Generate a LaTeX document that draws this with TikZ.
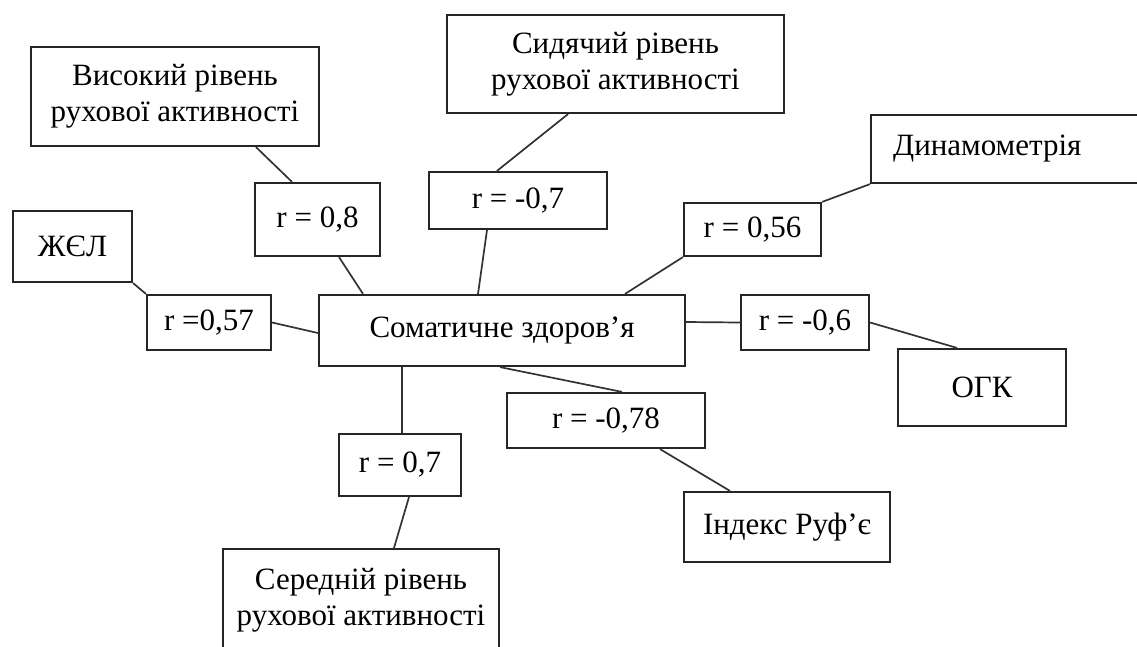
\documentclass[tikz,border=0pt]{standalone}
\usepackage{fontspec}
\setmainfont{Liberation Serif}
\begin{document}
\begin{tikzpicture}[x=1pt, y=-1pt,
    box/.style={draw=black!85, line width=2.2pt, inner sep=0pt, align=center,
    font=\fontsize{31}{36}\selectfont},
    link/.style={draw=black!80, line width=1.7pt}]
    \useasboundingbox (0,0) rectangle (1137,646);
    \clip (0,0) rectangle (1137,646);
    \node[box, minimum width=366, minimum height=71] (som) at (502,330.5) {Соматичне здоров’я};
    \node[box, minimum width=288, minimum height=99] (vys) at (175,96.5) {Високий рівень\\рухової активності};
    \node[box, minimum width=337, minimum height=98] (syd) at (615.5,64) {Сидячий рівень\\рухової активності};
    \node[box, minimum width=280, minimum height=68, text width=236, inner xsep=22, align=left,
    anchor=west] (dyn) at (870,149) {Динамометрія};
    \node[box, minimum width=119, minimum height=71] (zhel) at (72.5,246.5) {ЖЄЛ};
    \node[box, minimum width=168, minimum height=77] (ogk) at (982,387.5) {ОГК};
    \node[box, minimum width=206, minimum height=70] (rufe) at (787,527) {Індекс Руф’є};
    \node[box, minimum width=276, minimum height=102] (ser) at (361,600) {Середній рівень\\рухової активності};
    \node[box, minimum width=125, minimum height=73] (r08) at (317.5,219.5) {r = 0,8};
    \node[box, minimum width=178, minimum height=57] (r07n) at (518,200.5) {r = -0,7};
    \node[box, minimum width=137, minimum height=53] (r056) at (752.5,229.5) {r = 0,56};
    \node[box, minimum width=124, minimum height=55] (r057) at (209,322.5) {r =0,57};
    \node[box, minimum width=128, minimum height=55] (r06) at (805,322.5) {r = -0,6};
    \node[box, minimum width=198, minimum height=55] (r078) at (606,420.5) {r = -0,78};
    \node[box, minimum width=122, minimum height=62] (r07) at (400,465) {r = 0,7};
    \draw[link] ([xshift=81]vys.south) -- ([xshift=-25.5]r08.north);
    \draw[link] ([xshift=21.5]r08.south) -- ([xshift=-139]som.north);
    \draw[link] ([xshift=-47.5]syd.south) -- ([xshift=-21]r07n.north);
    \draw[link] ([xshift=-31]r07n.south) -- ([xshift=-24]som.north);
    \draw[link] (zhel.south east) -- (r057.north west);
    \draw[link] (r057.east) -- ([yshift=-2.5]som.west);
    \draw[link] (dyn.south west) -- (r056.north east);
    \draw[link] (r056.south west) -- ([xshift=123]som.north);
    \draw[link] ([yshift=8.5]som.east) -- (r06.west);
    \draw[link] (r06.east) -- ([xshift=-25]ogk.north);
    \draw[link] ([xshift=-2]som.south) -- ([xshift=16]r078.north);
    \draw[link] ([xshift=54]r078.south) -- ([xshift=-57]rufe.north);
    \draw[link] ([xshift=-100]som.south) -- ([xshift=2]r07.north);
    \draw[link] ([xshift=9]r07.south) -- ([xshift=33]ser.north);
\end{tikzpicture}
\end{document}
